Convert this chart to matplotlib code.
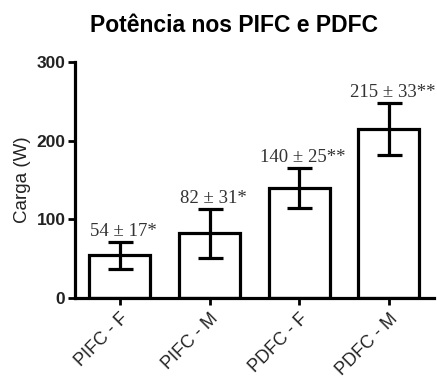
import matplotlib.pyplot as plt

# Data
groups = ['PIFC - F', 'PIFC - M', 'PDFC - F', 'PDFC - M']
means = [54, 82, 140, 215]
sds = [17, 31, 25, 33]
labels = ['54 ± 17*', '82 ± 31*', '140 ± 25**', '215 ± 33**']

plt.rcParams['font.family'] = ['Liberation Sans', 'DejaVu Sans']

fig = plt.figure(figsize=(4.37, 3.79), dpi=100)
ax = fig.add_axes([0.172, 0.214, 0.82, 0.622])

x = range(len(groups))
ax.bar(x, means, width=0.68, color='white', edgecolor='black', linewidth=2.3, zorder=2)
ax.errorbar(x, means, yerr=sds, fmt='none', ecolor='black', elinewidth=2.3,
            capsize=9, capthick=2.3, zorder=3)

for i, (m, s, lab) in enumerate(zip(means, sds, labels)):
    ax.text(i + 0.04, m + s + 3, lab, ha='center', va='bottom', fontsize=13.5,
            family='Liberation Serif', color='#333333')

ax.set_xlim(-0.5, 3.5)
ax.set_ylim(0, 300)
ax.set_yticks([0, 100, 200, 300])
ax.set_xticks(list(x))
ax.set_xticklabels(groups, rotation=45, ha='right', rotation_mode='anchor',
                   fontsize=13, color='#222222')
ax.tick_params(axis='y', labelsize=12.5, width=2, length=5, pad=2, labelcolor='#222222')
ax.tick_params(axis='x', width=2, length=5, pad=4)
for lab in ax.get_yticklabels():
    lab.set_fontweight('bold')

ax.spines['top'].set_visible(False)
ax.spines['right'].set_visible(False)
ax.spines['left'].set_linewidth(2.3)
ax.spines['bottom'].set_linewidth(2.3)

ax.set_ylabel('Carga (W)', fontsize=13.5, color='#222222', labelpad=4)
fig.text(0.535, 0.934, 'Potência nos PIFC e PDFC', fontsize=16.5, fontweight='bold',
         ha='center', va='center')

fig.savefig('out.png', dpi=100)
